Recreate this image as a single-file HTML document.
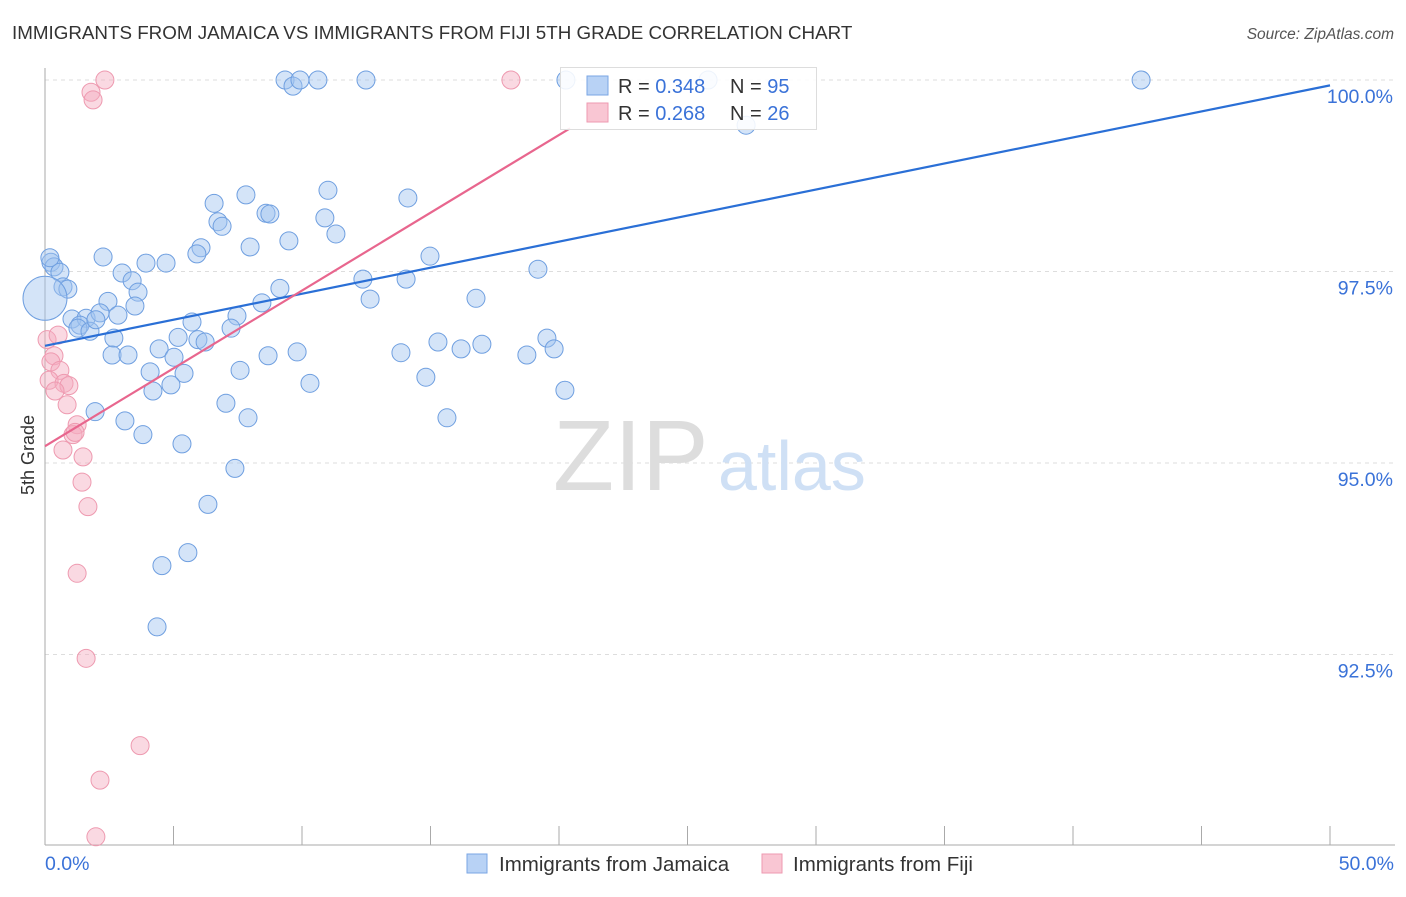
<!DOCTYPE html>
<html><head><meta charset="utf-8"><style>
body{margin:0;background:#fff;font-family:"Liberation Sans",sans-serif;}
svg text{font-family:"Liberation Sans",sans-serif;}
</style></head><body>
<svg width="1406" height="892" viewBox="0 0 1406 892" xmlns="http://www.w3.org/2000/svg">
<text x="12" y="39" font-size="18.8" fill="#333">IMMIGRANTS FROM JAMAICA VS IMMIGRANTS FROM FIJI 5TH GRADE CORRELATION CHART</text>
<text x="1394" y="39" font-size="15.5" fill="#555" font-style="italic" text-anchor="end">Source: ZipAtlas.com</text>
<g id="grid"></g>
<g id="axes"></g>
<text x="553" y="490" font-size="100" fill="#ddd" font-family="Liberation Serif">ZIP</text>
<text x="718" y="490" font-size="70" fill="#cfe0f5">atlas</text>
<g id="pts"></g>
<g id="lines"></g>
<text transform="translate(34,455) rotate(-90)" font-size="18" fill="#333" text-anchor="middle">5th Grade</text>
<text x="45" y="870" font-size="19.5" fill="#3a72d8">0.0%</text>
<text x="1394" y="870" font-size="19.5" fill="#3a72d8" text-anchor="end">50.0%</text>
<g>
<rect x="560.5" y="67.5" width="256" height="62" fill="#fff" fill-opacity="0.88" stroke="#ddd"/>
<rect x="587" y="76" width="21" height="19" fill="#b8d2f5" stroke="#7aa6e4"/>
<rect x="587" y="103" width="21" height="19" fill="#f9c6d3" stroke="#ee9ab0"/>
<text x="618" y="93" font-size="20" fill="#333">R = <tspan fill="#3a72d8">0.348</tspan><tspan x="730">N = </tspan><tspan fill="#3a72d8">95</tspan></text>
<text x="618" y="120" font-size="20" fill="#333">R = <tspan fill="#3a72d8">0.268</tspan><tspan x="730">N = </tspan><tspan fill="#3a72d8">26</tspan></text>
</g>
<g>
<rect x="467" y="854" width="20" height="19" fill="#b8d2f5" stroke="#7aa6e4"/>
<text x="499" y="871" font-size="20.5" fill="#333">Immigrants from Jamaica</text>
<rect x="762" y="854" width="20" height="19" fill="#f9c6d3" stroke="#ee9ab0"/>
<text x="793" y="871" font-size="20.5" fill="#333">Immigrants from Fiji</text>
</g>
</svg>
<script>
const blueX=[9.34,9.65,9.92,10.62,12.49,20.27,25.80,42.65,27.28,7.82,6.58,11.01,14.12,6.73,6.89,8.60,8.75,10.89,11.32,9.49,7.98,6.07,5.91,2.26,3.93,4.71,0.23,0.35,0.58,3.00,3.39,0.70,0.89,3.62,2.45,3.50,9.14,8.44,12.37,14.05,14.98,19.18,12.65,16.77,7.47,7.24,1.05,1.60,2.14,2.84,1.36,1.28,1.75,1.98,5.72,5.18,5.95,6.23,2.68,2.61,3.23,4.44,5.02,8.68,9.81,13.85,15.29,16.19,17.00,19.53,19.81,18.75,4.09,5.41,7.59,4.90,4.20,10.31,14.82,20.23,7.04,1.95,3.11,7.90,15.64,3.81,5.33,7.39,6.34,5.56,4.55,4.36,0.19,0];
const blueY=[100,99.92,100,100,100,100,100,100,99.41,98.50,98.39,98.56,98.46,98.15,98.09,98.26,98.25,98.20,97.99,97.90,97.82,97.81,97.73,97.69,97.61,97.61,97.62,97.56,97.49,97.48,97.38,97.30,97.27,97.23,97.11,97.05,97.28,97.09,97.40,97.40,97.70,97.53,97.14,97.15,96.92,96.76,96.88,96.89,96.96,96.93,96.80,96.76,96.72,96.87,96.84,96.64,96.61,96.58,96.63,96.41,96.41,96.49,96.38,96.40,96.45,96.44,96.58,96.49,96.55,96.63,96.49,96.41,96.19,96.17,96.21,96.02,95.94,96.04,96.12,95.95,95.78,95.67,95.55,95.59,95.59,95.37,95.25,94.93,94.46,93.83,93.66,92.86,97.68,97.15];
const blueSize=blueX.map((_, i)=> i===blueX.length-1 ? 22 : 9);
const pinkX=[2.33,18.13,1.79,1.87,0.08,0.51,0.35,0.23,0.58,0.16,0.74,0.93,0.39,0.86,1.25,1.09,1.17,0.70,1.48,1.44,1.67,1.25,1.60,3.70,2.14,1.98];
const pinkY=[100,100,99.84,99.74,96.61,96.67,96.40,96.32,96.21,96.08,96.04,96.01,95.94,95.76,95.50,95.37,95.40,95.17,95.08,94.75,94.43,93.56,92.45,91.31,90.86,90.12];
const blueTrend=[[0,96.53],[50,99.93]];
const pinkTrend=[[0,95.22],[20.43,99.37]];
const yTicks=[100,97.5,95,92.5];
const yTickLabels=["100.0%","97.5%","95.0%","92.5%"];
const xTicks=[0,5,10,15,20,25,30,35,40,45,50];
const NS="http://www.w3.org/2000/svg";
const sx=v=>45+v*25.7;
const sy=v=>80+(100-v)*76.6;
function mk(tag,attrs,parent){const e=document.createElementNS(NS,tag);for(const k in attrs)e.setAttribute(k,attrs[k]);parent.appendChild(e);return e;}
const grid=document.getElementById('grid'),axes=document.getElementById('axes'),pts=document.getElementById('pts'),lines=document.getElementById('lines');
yTicks.forEach((t,i)=>{
 const l=mk('line',{x1:45,x2:1395,y1:sy(t),y2:sy(t),stroke:'#ddd','stroke-dasharray':'4,4'},grid);
 
 
 const tx=mk('text',{x:1393,y:sy(t)+23,'font-size':19.5,fill:'#3a72d8','text-anchor':'end'},axes);
 tx.textContent=yTickLabels[i];
 
 
});
const ya=mk('line',{x1:45,x2:45,y1:68,y2:845,stroke:'#aaa'},axes);


const xa=mk('line',{x1:45,x2:1395,y1:845,y2:845,stroke:'#aaa'},axes);


xTicks.forEach(t=>{
 const l=mk('line',{x1:sx(t),x2:sx(t),y1:826,y2:845,stroke:'#aaa'},axes);
 
 
});
blueX.forEach((x,i)=>{
 const c=mk('circle',{cx:sx(x),cy:sy(blueY[i]),r:blueSize[i],fill:'rgba(160,196,240,0.45)',stroke:'#6f9fe0','stroke-width':1},pts);
 
 
});
pinkX.forEach((x,i)=>{
 const c=mk('circle',{cx:sx(x),cy:sy(pinkY[i]),r:9,fill:'rgba(245,170,190,0.45)',stroke:'#ee9ab0','stroke-width':1},pts);
 
 
});
const bl=mk('line',{x1:sx(blueTrend[0][0]),y1:sy(blueTrend[0][1]),x2:sx(blueTrend[1][0]),y2:sy(blueTrend[1][1]),stroke:'#2a6fd6','stroke-width':2.2},lines);


const pl=mk('line',{x1:sx(pinkTrend[0][0]),y1:sy(pinkTrend[0][1]),x2:sx(pinkTrend[1][0]),y2:sy(pinkTrend[1][1]),stroke:'#e8668e','stroke-width':2.2},lines);


</script>
</body></html>
